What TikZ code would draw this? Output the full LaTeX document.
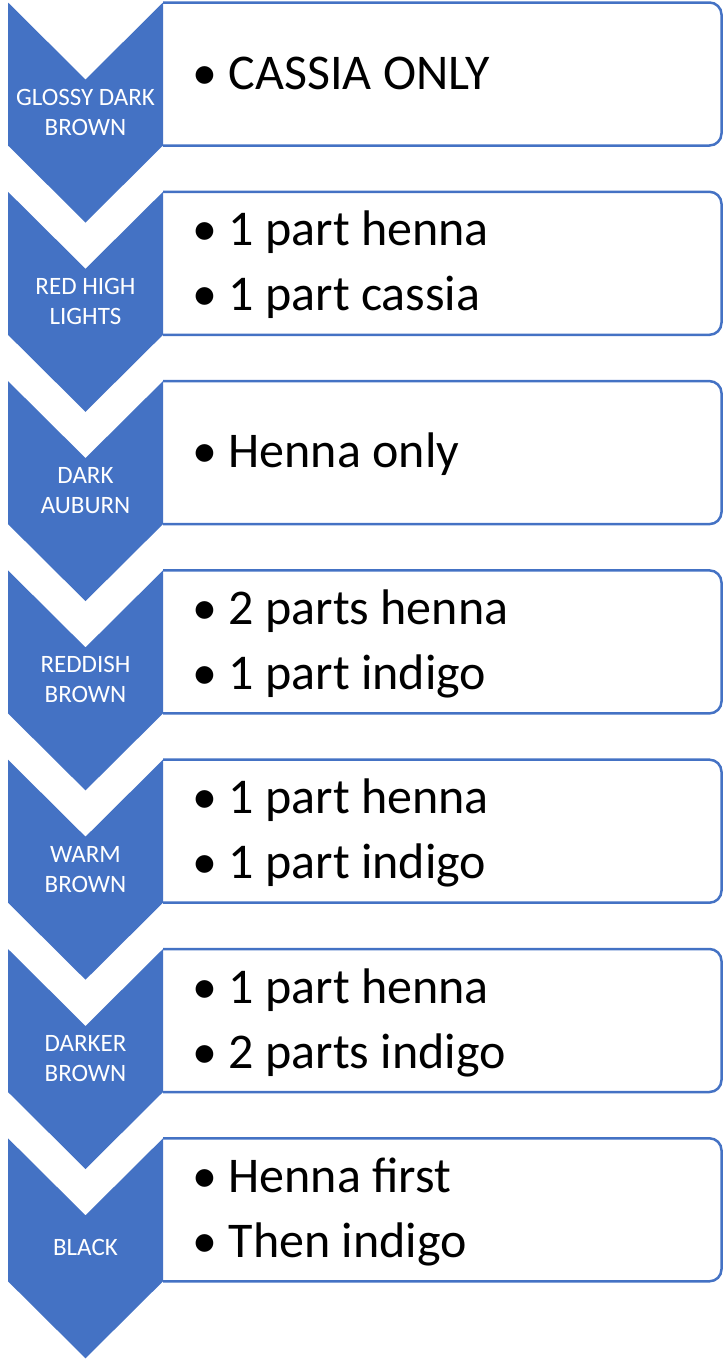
\documentclass[tikz,border=0pt]{standalone}
\usepackage{fontspec}
\setmainfont{Carlito}
\definecolor{chevblue}{HTML}{4472C4}
\tikzset{chevron/.style={fill=chevblue}}
\tikzset{itembox/.style={draw=chevblue, line width=2.5, rounded corners=12}}
\tikzset{chevlabel/.style={text=white, align=center, inner sep=0, font=\fontsize{25}{30}\selectfont}}
\tikzset{itemlist/.style={anchor=west, inner sep=0, font=\fontsize{50}{65}\selectfont}}
\newcommand{\bul}[1]{\makebox[36pt][l]{\textbullet}#1}

\begin{document}
\begin{tikzpicture}[x=1pt, y=-1pt]
    \useasboundingbox (0, 0) rectangle (723, 1361);
    \foreach \lab/\items [count=\i from 0] in {
        {GLOSSY DARK\\BROWN}/{\bul{CASSIA ONLY}},
        {RED HIGH\\LIGHTS}/{\bul{1 part henna}\\\bul{1 part cassia}},
        {DARK\\AUBURN}/{\bul{Henna only}},
        {REDDISH\\BROWN}/{\bul{2 parts henna}\\\bul{1 part indigo}},
        {WARM\\BROWN}/{\bul{1 part henna}\\\bul{1 part indigo}},
        {DARKER\\BROWN}/{\bul{1 part henna}\\\bul{2 parts indigo}},
        {BLACK}/{\bul{Henna first}\\\bul{Then indigo}}} {
        \begin{scope}[yshift={-189.3pt*\i}]
            % list box, rounded on the right only
            \draw[itembox] (163, 2.5) -- (721.5, 2.5) -- (721.5, 145.5) -- (163, 145.5);
            \fill[chevron] (8, 2.5) -- (85.5, 79.5) -- (163, 2.5) -- (163, 145.5) -- (85.5, 222.5) -- (8, 145.5) -- cycle;
            \node[chevlabel] (lab\i) at (85.5, 112) {\lab};
            \node[itemlist] (items\i) at (192.5, 76) {\begin{tabular}{@{}l@{}}\items\end{tabular}};
        \end{scope}
    }
\end{tikzpicture}
\end{document}
